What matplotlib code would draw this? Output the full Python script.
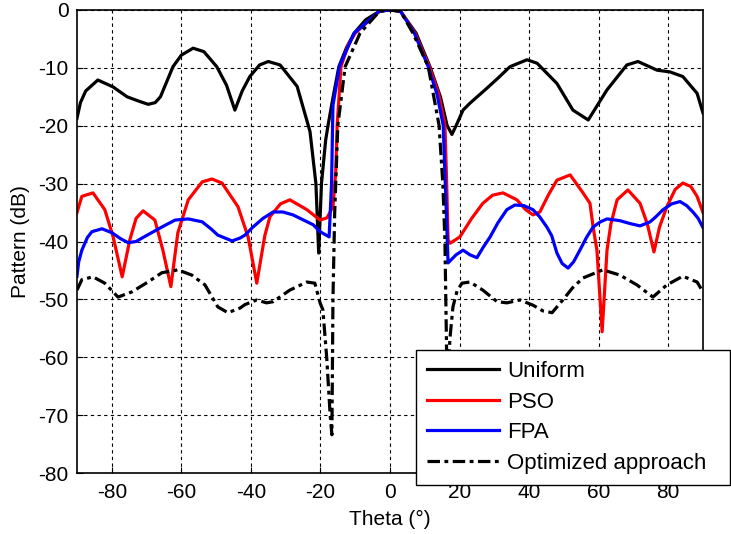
import numpy as np
import matplotlib
matplotlib.use('Agg')
import matplotlib.pyplot as plt

plt.rcParams['font.family'] = ['Liberation Sans', 'DejaVu Sans']
plt.rcParams['axes.unicode_minus'] = False

# array pattern values (theta in degrees, pattern in dB)
theta_uniform = [-90, -89, -87.5, -84, -79.6, -75.6, -72, -69.5, -67.5, -66, -62.4, -60, -56.6, -53.5,
                 -49.8, -47, -44.6, -42.5, -40.3, -37.5, -35, -31.6, -26.7, -23, -21.3, -20.5, -19.7,
                 -18.5, -17.8, -16.5, -14.7, -12.5, -10.3, -7, -3, 0, 3, 7.5, 11.5, 14.5, 16.4, 17.8, 19,
                 21, 23, 27.9, 31, 34.5, 39.4, 42.3, 48, 52.6, 57, 62.4, 68.1, 71.3, 76.8, 80.5, 84.2,
                 88.3, 90]
uniform = [-18.7, -16, -14, -12.1, -13.3, -15, -15.8, -16.3, -16, -15, -9.8, -7.8, -6.6, -7.2,
           -9.8, -13, -17.3, -14, -11.5, -9.5, -8.9, -9.5, -13.2, -21, -30, -42, -30,
           -22.5, -19.9, -15.5, -9.8, -6.5, -4, -1.7, -0.2, 0, -0.2, -4, -9.8, -15, -19.9, -21.5, -20,
           -17.3, -16.1, -13.5, -11.8, -9.8, -8.6, -9.2, -12.7, -17.3, -19, -13.8, -9.5, -8.9, -10.4, -10.7, -11.5,
           -14.4, -17.8]

theta_pso = [-90, -88.6, -85.4, -82, -79.6, -77, -74.8, -73, -71, -67.6, -65.3, -63, -61, -58, -54,
             -51.2, -48.3, -43.7, -40.8, -38.3, -36, -34.5, -31.5, -28.8, -23.9, -20.1, -18.1, -16.4,
             -15.6, -15.2, -14.1, -12, -10, -3, 0, 3, 7.2, 11.3, 14, 15.8, 16.3, 16.7, 17.3,
             20.1, 23.5, 26.7, 29.5, 32.5, 36.5, 39, 41.1, 43.1, 45.5, 48, 51.8, 55.5, 57.5, 58.4,
             59.5, 61, 62.4, 63.5, 65.3, 68.4, 71.9, 74, 75.9, 77.5, 79.6, 82, 84.2, 86.5, 88.3, 90]
pso = [-35, -32.2, -31.6, -34.5, -39.2, -46.1, -39.7, -36, -34.7, -36.3, -41.5, -47.8, -38.5, -32.8, -29.7,
       -29.2, -29.9, -34, -39.2, -47.2, -39, -35.7, -33.5, -32.8, -34.5, -36.3, -35.9, -34,
       -28, -20, -9.8, -6, -4, -0.2, 0, -0.2, -4, -9.8, -14.5, -19.9, -30, -39.7, -40.3,
       -39.2, -36, -33.4, -32, -31.6, -32.8, -34.5, -35.4, -34.9, -32, -29.4, -28.5, -31.6, -33.4, -37.5,
       -41.5, -55.6, -41.5, -37, -32.8, -31.1, -33.4, -37, -41.8, -37.5, -34, -31, -29.9, -30.5, -32.2, -35]

theta_fpa = [-90, -89.5, -88.6, -87, -85.7, -82.8, -79.9, -77.5, -75.3, -73, -71.3, -68, -65.6, -61.8,
             -58, -54, -51.5, -49.5, -45.4, -43.1, -41.7, -39.4, -36.5, -33.6, -30.8, -27.9, -22.1,
             -20.1, -17.5, -16.8, -16.4, -15, -14.6, -10.3, -3, 0, 3, 7, 11, 13.5, 15.3, 16.2, 16.7,
             19, 21, 23, 25, 26.8, 28.8, 31, 33.6, 35.9, 38.5, 41.1, 43, 45.1, 46.5, 48, 49.5, 51.2,
             52.8, 54.6, 56.5, 58.4, 60.5, 62.4, 66.1, 69, 71.9, 74.8, 76.5, 78.5, 81, 83.4, 85.3,
             87.1, 88.6, 90]
fpa = [-46, -43.5, -41.5, -39.3, -38.3, -37.8, -38.5, -39.5, -40.2, -40, -39.4, -38.3, -37.5, -36.3,
       -36.1, -36.6, -37.8, -38.9, -39.9, -39.4, -38.9, -37.5, -36, -34.9, -34.9, -35.4, -37.1,
       -38.3, -39.2, -30, -16.5, -11.5, -9.8, -4, -0.2, 0, -0.2, -4, -9.8, -14.5, -19.9, -35, -43.7,
       -42.3, -41.5, -42.3, -42.8, -41, -39.2, -36.8, -34.5, -33.7, -33.8, -34.5, -35.7, -37.5, -39, -42, -43.8, -44.6,
       -43.5, -41.5, -39.3, -37.5, -36.6, -36.1, -36.4, -36.9, -37.3, -36.6, -35.7, -34.5, -33.5, -33.1, -33.8,
       -34.9, -36, -37.6]

theta_opt = [-90, -88.6, -85.4, -82, -78.2, -74.2, -69.6, -65.6, -61, -57, -53.2, -49.5, -46.6, -43.1,
             -41.7, -38.3, -35.5, -33.6, -28.8, -23.9, -21.6, -20.1, -19.3, -18.2, -17.2, -16.7, -16.4,
             -15.9, -15, -12.9, -8.6, -3, 0, 3, 6.6, 11, 14.1, 15.2, 15.8, 16.5, 17.2,
             18.1, 19.3, 20.7, 23, 26.7, 30.8, 33.6, 37.4, 41.1, 44, 46.6, 49.7, 52.5, 55.5, 61.2,
             66.1, 71, 75.6, 79.6, 84.2, 88.3, 90]
optimized = [-48.4, -46.6, -46.1, -47.2, -49.6, -48.7, -47, -45.4, -44.9, -45.8, -47.5, -51.3, -52.3, -51.5,
             -50.9, -50.1, -50.6, -50.4, -48.4, -47, -47.2, -50.6, -51.8, -60, -70, -73.4, -50,
             -35, -20, -9.8, -4, -0.2, 0, -0.2, -4, -9.8, -19.9, -30, -40, -68, -57,
             -51.3, -48.5, -47.2, -47, -48.4, -50.4, -50.6, -50.1, -51, -52, -52.3, -50.1, -48, -46.3, -44.9,
             -45.8, -47.5, -49.6, -47.5, -46, -47, -48.7]

fig = plt.figure(figsize=(7.31, 5.34), dpi=100)
ax = fig.add_axes([0.1053, 0.1142, 0.8564, 0.8671])

lw = 2.3
ax.plot(theta_uniform, uniform, color='black', lw=lw, label='Uniform')
ax.plot(theta_pso, pso, color='#ff0000', lw=lw, label='PSO')
ax.plot(theta_fpa, fpa, color='#0000ff', lw=lw, label='FPA')
ax.plot(theta_opt, optimized, color='black', lw=lw, ls=(0, (3.9, 1.4, 1.2, 1.4)),
        label='Optimized approach')

ax.set_xlim(-90, 90)
ax.set_ylim(-80, 0)
ax.set_xticks(np.arange(-80, 81, 20))
ax.set_yticks(np.arange(-80, 1, 10))
ax.grid(True, color='black', ls=(0, (3, 3)), lw=0.8)
ax.tick_params(direction='in', labelsize=15, length=4, width=0.8)
ax.tick_params(axis='x', pad=7)
ax.tick_params(axis='y', pad=6)
for s in ax.spines.values():
    s.set_linewidth(1.2)
ax.set_xlabel('Theta (°)', fontsize=15, labelpad=6)
ax.set_ylabel('Pattern (dB)', fontsize=15, labelpad=6)

leg = fig.legend(loc='lower left', bbox_to_anchor=(0.569, 0.092, 0.429, 0.253), mode='expand',
                 fontsize=16, handlelength=3.25, handletextpad=0.36, fancybox=False, framealpha=1,
                 edgecolor='black', borderaxespad=0, labelspacing=0.43, borderpad=0.5)
leg.get_frame().set_linewidth(1.0)

fig.savefig('out.png', dpi=100)
